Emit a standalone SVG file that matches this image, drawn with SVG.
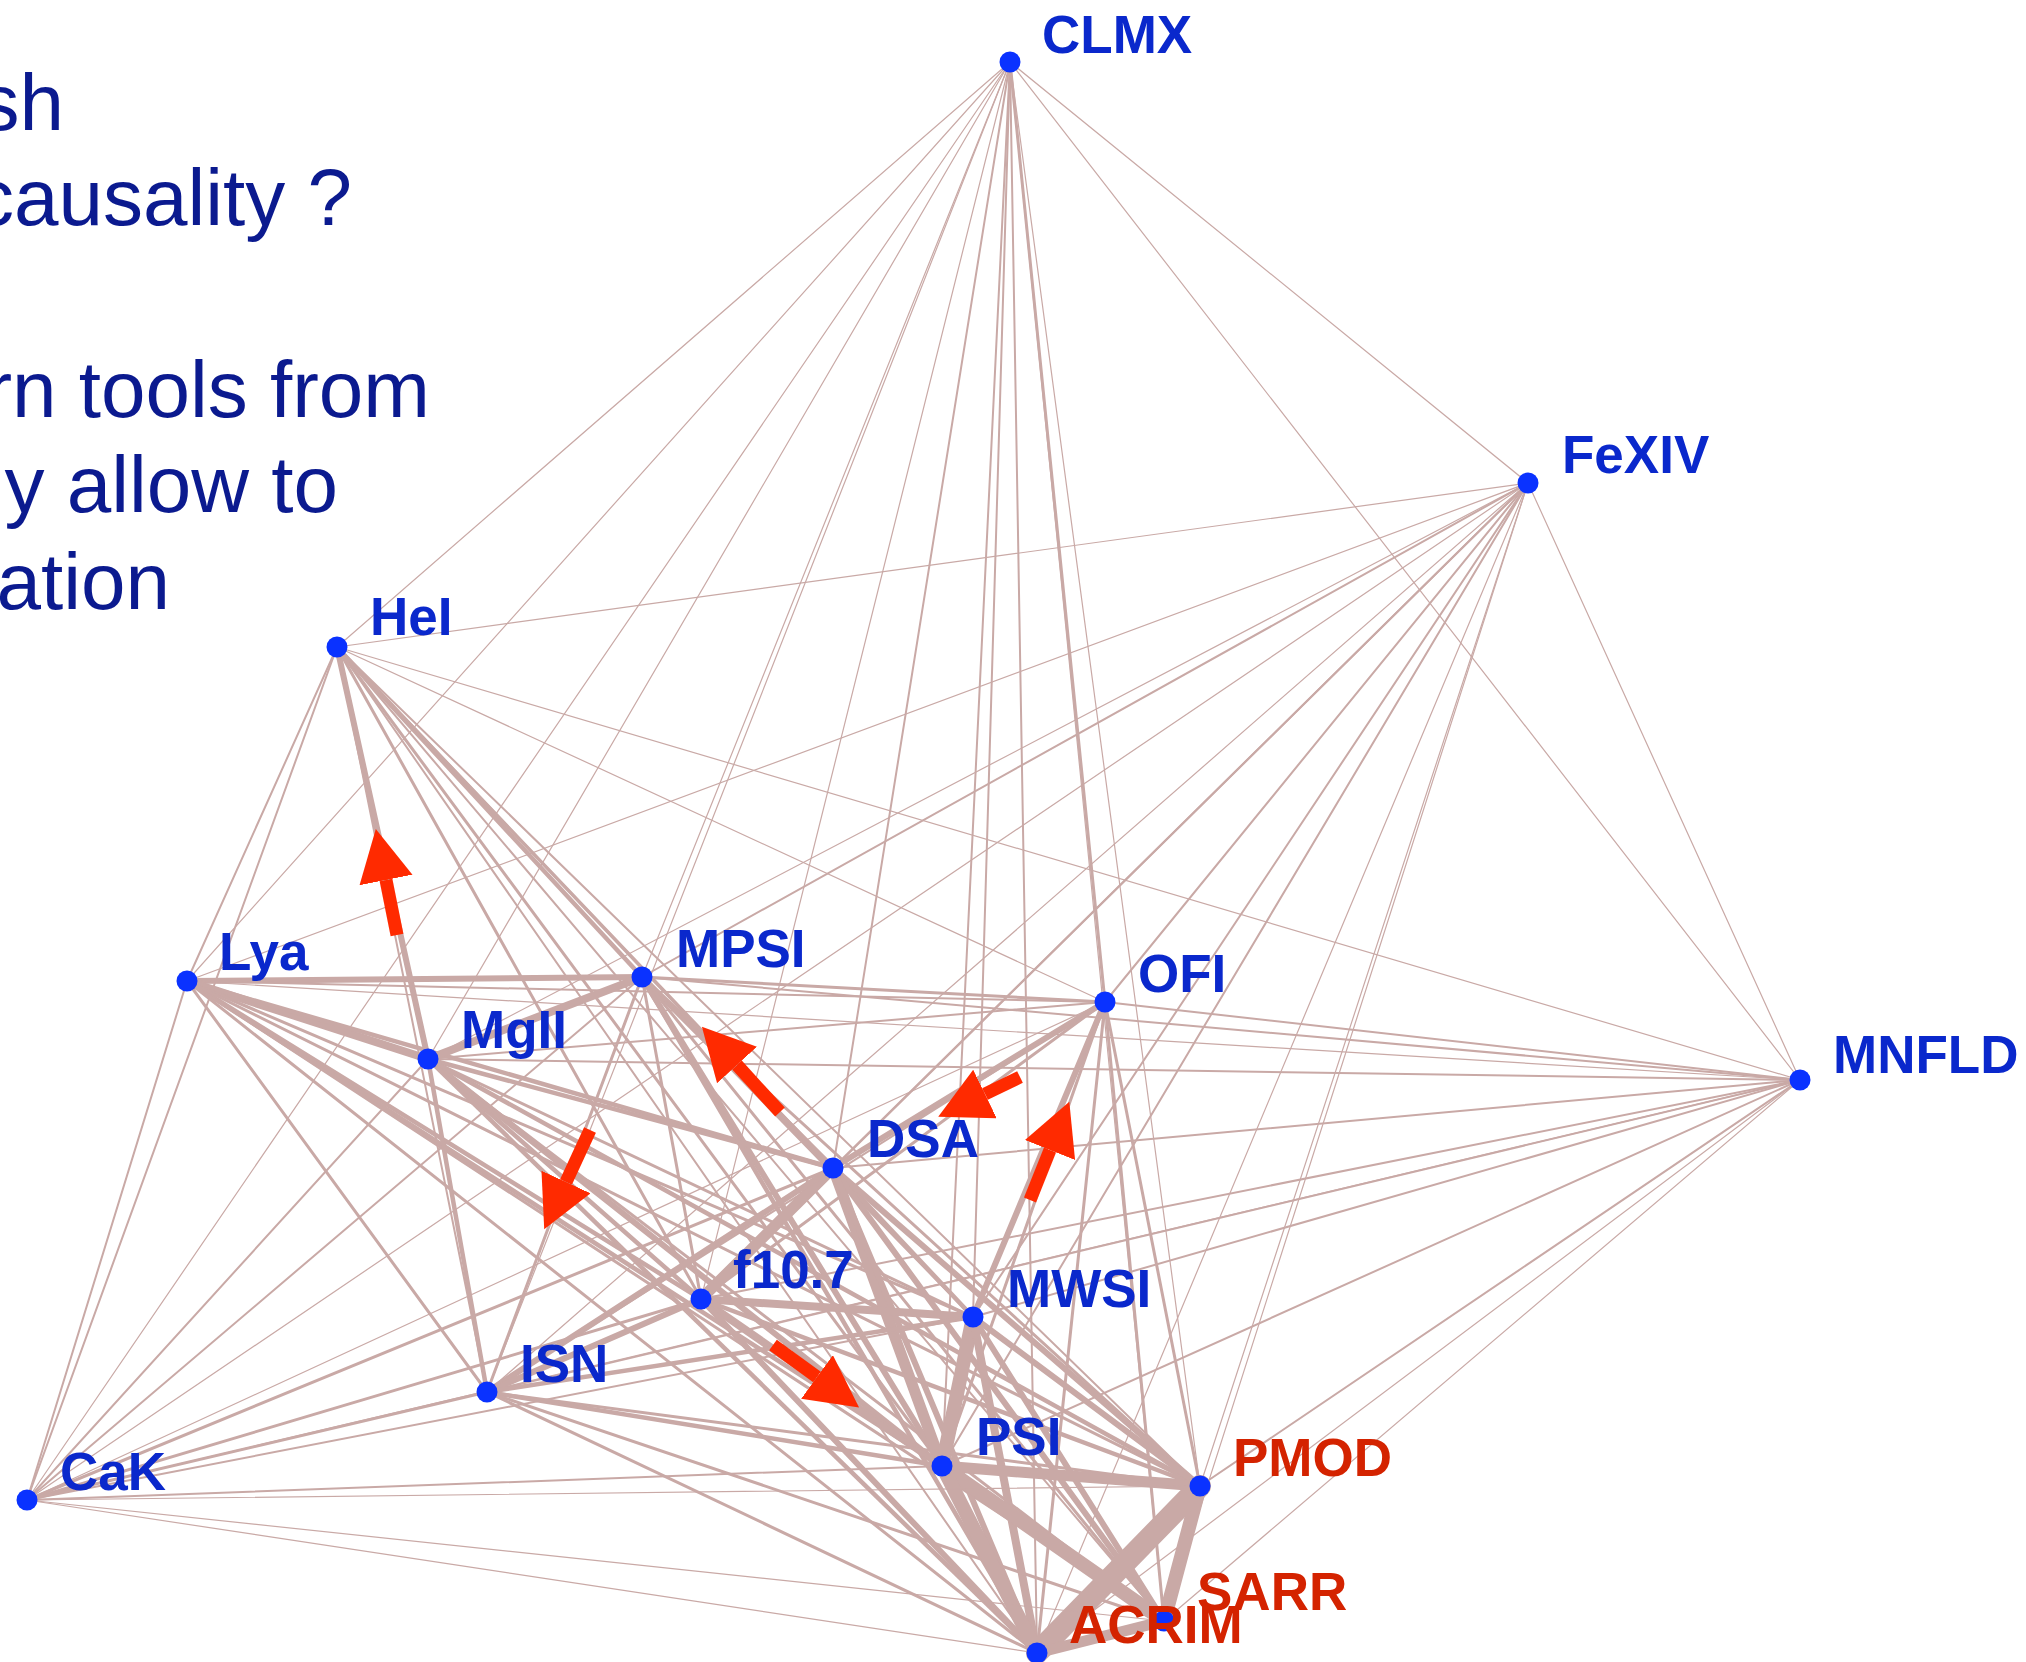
<svg xmlns="http://www.w3.org/2000/svg" width="2026" height="1662" viewBox="0 0 2026 1662">
<defs>
<style>
.title{font-family:"Liberation Sans",Arial,sans-serif;font-size:80px;fill:#0b1a8f;text-anchor:end}
.lbl{font-family:"Liberation Sans",Arial,sans-serif;font-size:53px;font-weight:bold;fill:#0a28cc}
.red{fill:#d42300}
.dot{fill:#0a32ff}
#connectors line{stroke:#c9a9a6;stroke-linecap:round}
.e1{stroke-width:1.2}.e2{stroke-width:2}.e3{stroke-width:3}.e4{stroke-width:4.5}.e5{stroke-width:6}.e6{stroke-width:8}.e7{stroke-width:11}.e8{stroke-width:14}.e9{stroke-width:22}
.arr{stroke:#ff2a00;stroke-width:13;marker-end:url(#ah)}
</style>
<marker id="ah" markerUnits="userSpaceOnUse" markerWidth="54" markerHeight="56" refX="0" refY="27" orient="auto"><path d="M0,0 L52,27 L0,54 Z" fill="#ff2a00"/></marker>
</defs>
<rect width="2026" height="1662" fill="#ffffff"/>
<g id="title">
<text class="title" x="64" y="130">sh</text>
<text class="title" x="352" y="225">causality ?</text>
<text class="title" x="430" y="417">rn tools from</text>
<text class="title" x="338" y="512">y allow to</text>
<text class="title" x="170" y="609">ation</text>
</g>
<g id="connectors">
<line class="e1" x1="1010" y1="62" x2="1528" y2="483"/>
<line class="e1" x1="1010" y1="62" x2="337" y2="647"/>
<line class="e1" x1="1010" y1="62" x2="187" y2="981"/>
<line class="e1" x1="1010" y1="62" x2="642" y2="977"/>
<line class="e3" x1="1010" y1="62" x2="1105" y2="1002"/>
<line class="e1" x1="1010" y1="62" x2="1800" y2="1080"/>
<line class="e1" x1="1010" y1="62" x2="428" y2="1059"/>
<line class="e2" x1="1010" y1="62" x2="833" y2="1168"/>
<line class="e1" x1="1010" y1="62" x2="701" y2="1299"/>
<line class="e2" x1="1010" y1="62" x2="973" y2="1317"/>
<line class="e1" x1="1010" y1="62" x2="487" y2="1392"/>
<line class="e2" x1="1010" y1="62" x2="942" y2="1466"/>
<line class="e1" x1="1010" y1="62" x2="1200" y2="1486"/>
<line class="e1" x1="1010" y1="62" x2="27" y2="1500"/>
<line class="e1" x1="1010" y1="62" x2="1164" y2="1621"/>
<line class="e2" x1="1010" y1="62" x2="1037" y2="1653"/>
<line class="e1" x1="1528" y1="483" x2="337" y2="647"/>
<line class="e1" x1="1528" y1="483" x2="187" y2="981"/>
<line class="e2" x1="1528" y1="483" x2="642" y2="977"/>
<line class="e2" x1="1528" y1="483" x2="1105" y2="1002"/>
<line class="e1" x1="1528" y1="483" x2="1800" y2="1080"/>
<line class="e1" x1="1528" y1="483" x2="428" y2="1059"/>
<line class="e2" x1="1528" y1="483" x2="833" y2="1168"/>
<line class="e2" x1="1528" y1="483" x2="701" y2="1299"/>
<line class="e2" x1="1528" y1="483" x2="973" y2="1317"/>
<line class="e1" x1="1528" y1="483" x2="487" y2="1392"/>
<line class="e2" x1="1528" y1="483" x2="942" y2="1466"/>
<line class="e1" x1="1528" y1="483" x2="1200" y2="1486"/>
<line class="e1" x1="1528" y1="483" x2="27" y2="1500"/>
<line class="e1" x1="1528" y1="483" x2="1164" y2="1621"/>
<line class="e1" x1="1528" y1="483" x2="1037" y2="1653"/>
<line class="e2" x1="337" y1="647" x2="187" y2="981"/>
<line class="e4" x1="337" y1="647" x2="642" y2="977"/>
<line class="e1" x1="337" y1="647" x2="1105" y2="1002"/>
<line class="e1" x1="337" y1="647" x2="1800" y2="1080"/>
<line class="e5" x1="337" y1="647" x2="428" y2="1059"/>
<line class="e3" x1="337" y1="647" x2="833" y2="1168"/>
<line class="e3" x1="337" y1="647" x2="701" y2="1299"/>
<line class="e3" x1="337" y1="647" x2="973" y2="1317"/>
<line class="e2" x1="337" y1="647" x2="487" y2="1392"/>
<line class="e3" x1="337" y1="647" x2="942" y2="1466"/>
<line class="e2" x1="337" y1="647" x2="1200" y2="1486"/>
<line class="e2" x1="337" y1="647" x2="27" y2="1500"/>
<line class="e2" x1="337" y1="647" x2="1164" y2="1621"/>
<line class="e2" x1="337" y1="647" x2="1037" y2="1653"/>
<line class="e5" x1="187" y1="981" x2="642" y2="977"/>
<line class="e2" x1="187" y1="981" x2="1105" y2="1002"/>
<line class="e1" x1="187" y1="981" x2="1800" y2="1080"/>
<line class="e6" x1="187" y1="981" x2="428" y2="1059"/>
<line class="e4" x1="187" y1="981" x2="833" y2="1168"/>
<line class="e4" x1="187" y1="981" x2="701" y2="1299"/>
<line class="e3" x1="187" y1="981" x2="973" y2="1317"/>
<line class="e3" x1="187" y1="981" x2="487" y2="1392"/>
<line class="e4" x1="187" y1="981" x2="942" y2="1466"/>
<line class="e3" x1="187" y1="981" x2="1200" y2="1486"/>
<line class="e2" x1="187" y1="981" x2="27" y2="1500"/>
<line class="e3" x1="187" y1="981" x2="1164" y2="1621"/>
<line class="e3" x1="187" y1="981" x2="1037" y2="1653"/>
<line class="e3" x1="642" y1="977" x2="1105" y2="1002"/>
<line class="e2" x1="642" y1="977" x2="1800" y2="1080"/>
<line class="e6" x1="642" y1="977" x2="428" y2="1059"/>
<line class="e5" x1="642" y1="977" x2="833" y2="1168"/>
<line class="e3" x1="642" y1="977" x2="701" y2="1299"/>
<line class="e3" x1="642" y1="977" x2="973" y2="1317"/>
<line class="e3" x1="642" y1="977" x2="487" y2="1392"/>
<line class="e5" x1="642" y1="977" x2="942" y2="1466"/>
<line class="e3" x1="642" y1="977" x2="1200" y2="1486"/>
<line class="e2" x1="642" y1="977" x2="27" y2="1500"/>
<line class="e3" x1="642" y1="977" x2="1164" y2="1621"/>
<line class="e4" x1="642" y1="977" x2="1037" y2="1653"/>
<line class="e2" x1="1105" y1="1002" x2="1800" y2="1080"/>
<line class="e2" x1="1105" y1="1002" x2="428" y2="1059"/>
<line class="e5" x1="1105" y1="1002" x2="833" y2="1168"/>
<line class="e3" x1="1105" y1="1002" x2="701" y2="1299"/>
<line class="e5" x1="1105" y1="1002" x2="973" y2="1317"/>
<line class="e2" x1="1105" y1="1002" x2="487" y2="1392"/>
<line class="e3" x1="1105" y1="1002" x2="942" y2="1466"/>
<line class="e3" x1="1105" y1="1002" x2="1200" y2="1486"/>
<line class="e1" x1="1105" y1="1002" x2="27" y2="1500"/>
<line class="e3" x1="1105" y1="1002" x2="1164" y2="1621"/>
<line class="e3" x1="1105" y1="1002" x2="1037" y2="1653"/>
<line class="e2" x1="1800" y1="1080" x2="428" y2="1059"/>
<line class="e2" x1="1800" y1="1080" x2="833" y2="1168"/>
<line class="e2" x1="1800" y1="1080" x2="701" y2="1299"/>
<line class="e2" x1="1800" y1="1080" x2="973" y2="1317"/>
<line class="e2" x1="1800" y1="1080" x2="487" y2="1392"/>
<line class="e2" x1="1800" y1="1080" x2="942" y2="1466"/>
<line class="e2" x1="1800" y1="1080" x2="1200" y2="1486"/>
<line class="e1" x1="1800" y1="1080" x2="27" y2="1500"/>
<line class="e1" x1="1800" y1="1080" x2="1164" y2="1621"/>
<line class="e1" x1="1800" y1="1080" x2="1037" y2="1653"/>
<line class="e4" x1="428" y1="1059" x2="833" y2="1168"/>
<line class="e4" x1="428" y1="1059" x2="701" y2="1299"/>
<line class="e3" x1="428" y1="1059" x2="973" y2="1317"/>
<line class="e4" x1="428" y1="1059" x2="487" y2="1392"/>
<line class="e5" x1="428" y1="1059" x2="942" y2="1466"/>
<line class="e4" x1="428" y1="1059" x2="1200" y2="1486"/>
<line class="e2" x1="428" y1="1059" x2="27" y2="1500"/>
<line class="e3" x1="428" y1="1059" x2="1164" y2="1621"/>
<line class="e4" x1="428" y1="1059" x2="1037" y2="1653"/>
<line class="e7" x1="833" y1="1168" x2="701" y2="1299"/>
<line class="e4" x1="833" y1="1168" x2="973" y2="1317"/>
<line class="e5" x1="833" y1="1168" x2="487" y2="1392"/>
<line class="e7" x1="833" y1="1168" x2="942" y2="1466"/>
<line class="e5" x1="833" y1="1168" x2="1200" y2="1486"/>
<line class="e3" x1="833" y1="1168" x2="27" y2="1500"/>
<line class="e5" x1="833" y1="1168" x2="1164" y2="1621"/>
<line class="e5" x1="833" y1="1168" x2="1037" y2="1653"/>
<line class="e6" x1="701" y1="1299" x2="973" y2="1317"/>
<line class="e5" x1="701" y1="1299" x2="487" y2="1392"/>
<line class="e6" x1="701" y1="1299" x2="942" y2="1466"/>
<line class="e4" x1="701" y1="1299" x2="1200" y2="1486"/>
<line class="e3" x1="701" y1="1299" x2="27" y2="1500"/>
<line class="e4" x1="701" y1="1299" x2="1164" y2="1621"/>
<line class="e5" x1="701" y1="1299" x2="1037" y2="1653"/>
<line class="e4" x1="973" y1="1317" x2="487" y2="1392"/>
<line class="e8" x1="973" y1="1317" x2="942" y2="1466"/>
<line class="e5" x1="973" y1="1317" x2="1200" y2="1486"/>
<line class="e2" x1="973" y1="1317" x2="27" y2="1500"/>
<line class="e5" x1="973" y1="1317" x2="1164" y2="1621"/>
<line class="e6" x1="973" y1="1317" x2="1037" y2="1653"/>
<line class="e4" x1="487" y1="1392" x2="942" y2="1466"/>
<line class="e3" x1="487" y1="1392" x2="1200" y2="1486"/>
<line class="e3" x1="487" y1="1392" x2="27" y2="1500"/>
<line class="e3" x1="487" y1="1392" x2="1164" y2="1621"/>
<line class="e3" x1="487" y1="1392" x2="1037" y2="1653"/>
<line class="e7" x1="942" y1="1466" x2="1200" y2="1486"/>
<line class="e2" x1="942" y1="1466" x2="27" y2="1500"/>
<line class="e8" x1="942" y1="1466" x2="1164" y2="1621"/>
<line class="e8" x1="942" y1="1466" x2="1037" y2="1653"/>
<line class="e1" x1="1200" y1="1486" x2="27" y2="1500"/>
<line class="e8" x1="1200" y1="1486" x2="1164" y2="1621"/>
<line class="e9" x1="1200" y1="1486" x2="1037" y2="1653"/>
<line class="e1" x1="27" y1="1500" x2="1164" y2="1621"/>
<line class="e1" x1="27" y1="1500" x2="1037" y2="1653"/>
<line class="e7" x1="1164" y1="1621" x2="1037" y2="1653"/>
</g>
<g id="arrows">
<line class="arr" x1="397" y1="935" x2="386" y2="880"/>
<line class="arr" x1="780" y1="1112" x2="737" y2="1065"/>
<line class="arr" x1="1020" y1="1077" x2="985" y2="1094"/>
<line class="arr" x1="1030" y1="1200" x2="1050" y2="1150"/>
<line class="arr" x1="590" y1="1130" x2="566" y2="1182"/>
<line class="arr" x1="773" y1="1345" x2="817" y2="1377"/>
</g>
<g id="node-CLMX"><circle class="dot" cx="1010" cy="62" r="10.5"/><text class="lbl" x="1042" y="53">CLMX</text></g>
<g id="node-FeXIV"><circle class="dot" cx="1528" cy="483" r="10.5"/><text class="lbl" x="1562" y="473">FeXIV</text></g>
<g id="node-HeI"><circle class="dot" cx="337" cy="647" r="10.5"/><text class="lbl" x="370" y="635">HeI</text></g>
<g id="node-Lya"><circle class="dot" cx="187" cy="981" r="10.5"/><text class="lbl" x="219" y="970">Lya</text></g>
<g id="node-MPSI"><circle class="dot" cx="642" cy="977" r="10.5"/><text class="lbl" x="676" y="967">MPSI</text></g>
<g id="node-OFI"><circle class="dot" cx="1105" cy="1002" r="10.5"/><text class="lbl" x="1138" y="992">OFI</text></g>
<g id="node-MNFLD"><circle class="dot" cx="1800" cy="1080" r="10.5"/><text class="lbl" x="1833" y="1073">MNFLD</text></g>
<g id="node-MgII"><circle class="dot" cx="428" cy="1059" r="10.5"/><text class="lbl" x="461" y="1048">MgII</text></g>
<g id="node-DSA"><circle class="dot" cx="833" cy="1168" r="10.5"/><text class="lbl" x="867" y="1157">DSA</text></g>
<g id="node-f10.7"><circle class="dot" cx="701" cy="1299" r="10.5"/><text class="lbl" x="733" y="1288">f10.7</text></g>
<g id="node-MWSI"><circle class="dot" cx="973" cy="1317" r="10.5"/><text class="lbl" x="1007" y="1307">MWSI</text></g>
<g id="node-ISN"><circle class="dot" cx="487" cy="1392" r="10.5"/><text class="lbl" x="520" y="1382">ISN</text></g>
<g id="node-PSI"><circle class="dot" cx="942" cy="1466" r="10.5"/><text class="lbl" x="976" y="1455">PSI</text></g>
<g id="node-PMOD"><circle class="dot" cx="1200" cy="1486" r="10.5"/><text class="lbl red" x="1233" y="1476">PMOD</text></g>
<g id="node-CaK"><circle class="dot" cx="27" cy="1500" r="10.5"/><text class="lbl" x="60" y="1490">CaK</text></g>
<g id="node-SARR"><circle class="dot" cx="1164" cy="1621" r="10.5"/><text class="lbl red" x="1197" y="1610">SARR</text></g>
<g id="node-ACRIM"><circle class="dot" cx="1037" cy="1653" r="10.5"/><text class="lbl red" x="1069" y="1643">ACRIM</text></g>
</svg>
